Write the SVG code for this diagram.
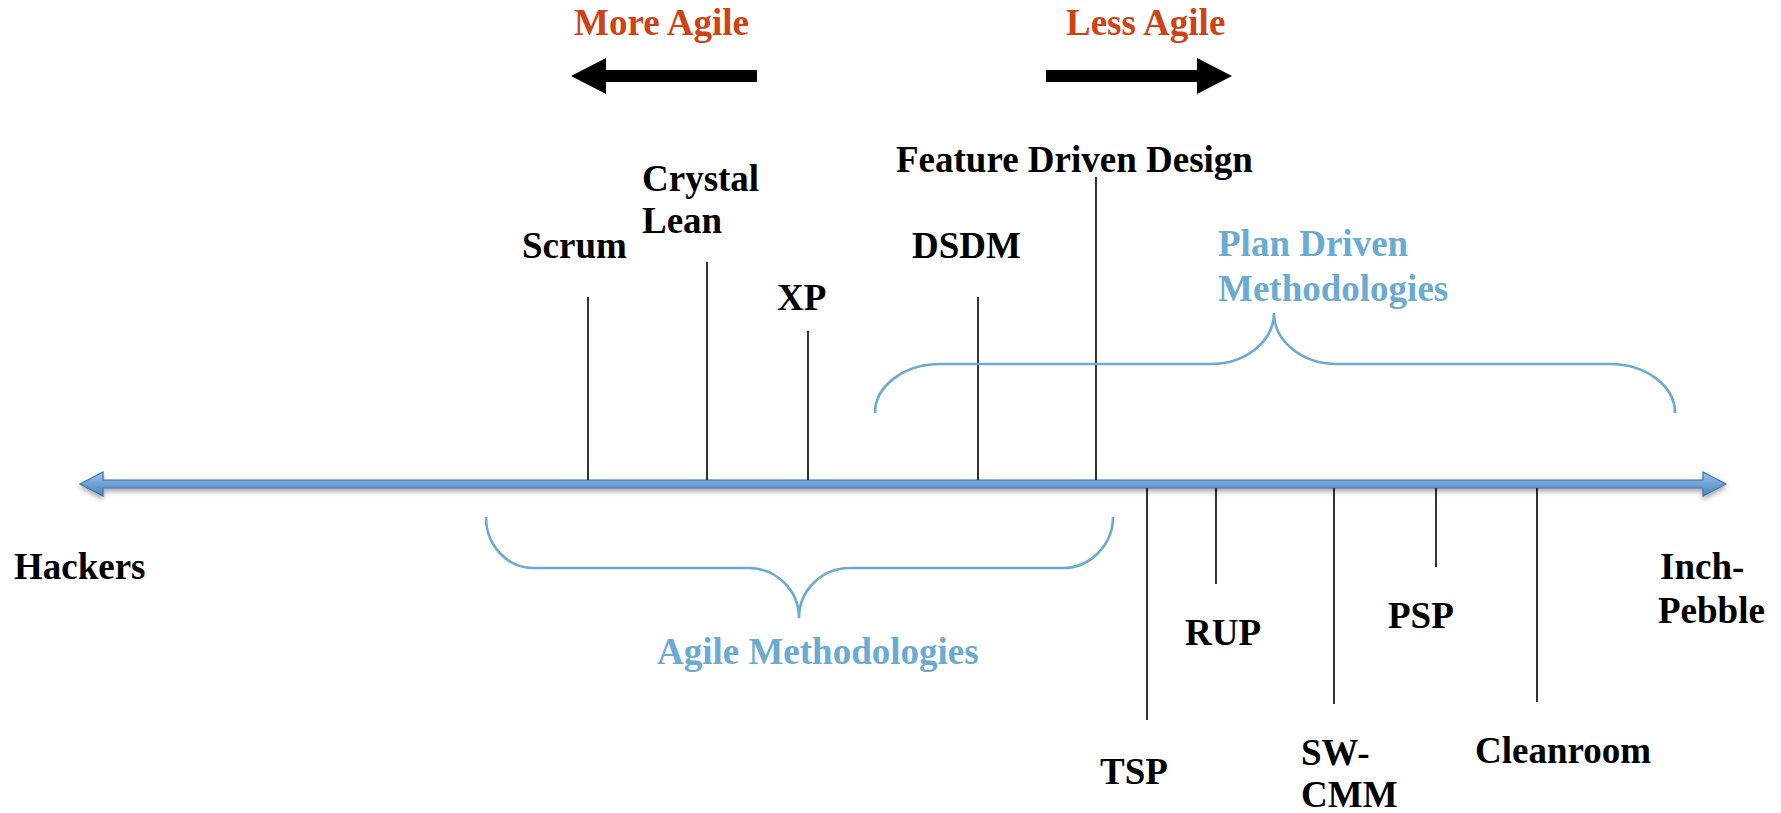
<svg xmlns="http://www.w3.org/2000/svg" width="1781" height="813" viewBox="0 0 1781 813">
<style>
  .lbl { font-family: "Liberation Serif", "Times New Roman", serif; font-weight: bold; font-size: 37px; fill: #000; }
  .red { fill: #CF4215; }
  .blue { fill: #6BABD1; }
  .tick { stroke: #000; stroke-width: 1.6; fill: none; }
  .brace { stroke: #6BABD1; stroke-width: 2.6; fill: none; }
</style>
<defs>
  <linearGradient id="axisGrad" x1="0" y1="0" x2="0" y2="1">
    <stop offset="0" stop-color="#9CC3EA"/>
    <stop offset="0.5" stop-color="#6FA2D6"/>
    <stop offset="1" stop-color="#4E86C2"/>
  </linearGradient>
  <filter id="shadow" x="-5%" y="-100%" width="110%" height="300%">
    <feDropShadow dx="0" dy="3" stdDeviation="2.5" flood-color="#000" flood-opacity="0.35"/>
  </filter>
</defs>
<rect width="1781" height="813" fill="#fff"/>

<g id="axis">
  <polygon filter="url(#shadow)" fill="url(#axisGrad)" stroke="#3F73A8" stroke-width="1.2"
    points="80,484 103,472 103,480 1703,480 1703,472 1726,484 1703,496 1703,488 103,488 103,496"/>
</g>

<g id="more-agile">
  <text class="lbl red" x="574" y="35">More Agile</text>
  <polygon fill="#000" points="571,76 606,58 606,70 757,70 757,82 606,82 606,94"/>
</g>
<g id="less-agile">
  <text class="lbl red" x="1066" y="35">Less Agile</text>
  <polygon fill="#000" points="1232,76 1197,58 1197,70 1046,70 1046,82 1197,82 1197,94"/>
</g>

<g id="connectors">
  <line class="tick" x1="588" y1="297" x2="588" y2="480"/>
  <line class="tick" x1="707" y1="262" x2="707" y2="480"/>
  <line class="tick" x1="808" y1="331" x2="808" y2="480"/>
  <line class="tick" x1="978" y1="297" x2="978" y2="480"/>
  <line class="tick" x1="1096" y1="177" x2="1096" y2="480"/>
  <line class="tick" x1="1147" y1="488" x2="1147" y2="720"/>
  <line class="tick" x1="1216" y1="488" x2="1216" y2="584"/>
  <line class="tick" x1="1334" y1="488" x2="1334" y2="704"/>
  <line class="tick" x1="1436" y1="488" x2="1436" y2="567"/>
  <line class="tick" x1="1537" y1="488" x2="1537" y2="702"/>
</g>

<g id="scrum"><text class="lbl" x="522" y="258">Scrum</text></g>
<g id="crystal-lean">
  <text class="lbl" x="642" y="191">Crystal</text>
  <text class="lbl" x="642" y="233">Lean</text>
</g>
<g id="xp"><text class="lbl" x="777" y="310">XP</text></g>
<g id="dsdm"><text class="lbl" x="912" y="258">DSDM</text></g>
<g id="fdd"><text class="lbl" x="896" y="172">Feature Driven Design</text></g>

<g id="tsp"><text class="lbl" x="1100" y="784">TSP</text></g>
<g id="rup"><text class="lbl" x="1185" y="645">RUP</text></g>
<g id="sw-cmm">
  <text class="lbl" x="1301" y="765">SW-</text>
  <text class="lbl" x="1301" y="807">CMM</text>
</g>
<g id="psp"><text class="lbl" x="1388" y="628">PSP</text></g>
<g id="cleanroom"><text class="lbl" x="1475" y="763">Cleanroom</text></g>

<g id="hackers"><text class="lbl" x="14" y="579">Hackers</text></g>
<g id="inch-pebble">
  <text class="lbl" x="1660" y="579">Inch-</text>
  <text class="lbl" x="1658" y="623">Pebble</text>
</g>

<g id="plan-driven">
  <path class="brace" d="M875,413 C875,386 904,364 940,364 L1211,364 C1246,364 1274,341 1274,313 C1274,341 1302,364 1337,364 L1610,364 C1646,364 1675,386 1675,413"/>
  <text class="lbl blue" x="1218" y="256">Plan Driven</text>
  <text class="lbl blue" x="1218" y="301">Methodologies</text>
</g>

<g id="agile-methodologies">
  <path class="brace" d="M486,517 C486,545 507,568 533,568 L748,568 C776,568 799,590 799,618 C799,590 822,568 850,568 L1063,568 C1090,568 1113,545 1113,517"/>
  <text class="lbl blue" x="657" y="664">Agile Methodologies</text>
</g>
</svg>
